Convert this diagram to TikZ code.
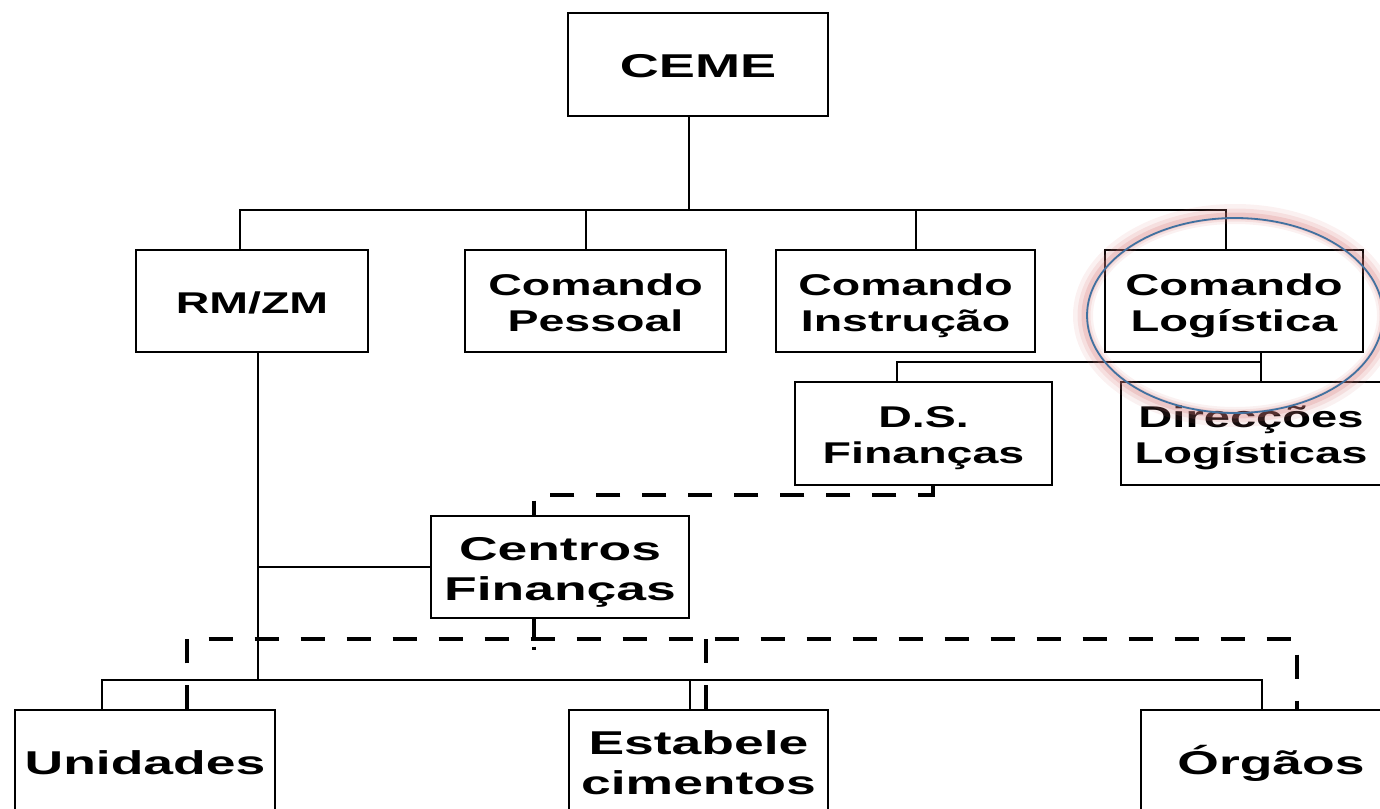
\documentclass[tikz,border=0pt]{standalone}
\usepackage{fontspec}
\setmainfont{Liberation Sans}
\usepackage{graphicx}
\definecolor{ellblue}{RGB}{65,113,160}
\definecolor{glowc}{RGB}{215,120,120}
\newcommand\wtxt[2]{\raisebox{-5pt}[\height][\depth]{\scalebox{#1}[1]{\begin{tabular}{@{}c@{}}#2\end{tabular}}}}
\begin{document}
\begin{tikzpicture}[x=1pt,y=-1pt,
 box/.style={draw, line width=1.4pt, inner sep=0pt, minimum height=102pt, fill=white},
 fa/.style={font=\bfseries\fontsize{30}{36}\selectfont},
 fb/.style={font=\bfseries\fontsize{33}{40}\selectfont},
 conn/.style={line width=1.4pt},
 dconn/.style={line width=3.8pt, dash pattern=on 24pt off 22pt}]
\useasboundingbox (0,0) rectangle (1380,808);
\clip (0,0) rectangle (1380,808);
% boxes
\node[box,fb,minimum width=260pt,minimum height=103pt] (ceme) at (698,64.5) {\wtxt{1.64}{CEME}};
\node[box,fa,minimum width=232pt] (rm)  at (252,301)   {\wtxt{1.55}{RM/ZM}};
\node[box,fa,minimum width=261pt] (pes) at (595.5,301) {\wtxt{1.55}{Comando\\Pessoal}};
\node[box,fa,minimum width=259pt] (ins) at (905.5,301) {\wtxt{1.55}{Comando\\Instrução}};
\node[box,fa,minimum width=258pt] (log) at (1234,301)  {\wtxt{1.57}{Comando\\Logística}};
\node[box,fa,minimum width=257pt,minimum height=103pt] (dsf) at (923.5,433.5) {\wtxt{1.55}{D.S.\\Finanças}};
\node[box,fa,minimum width=260pt,minimum height=103pt] (dir) at (1251,433.5)  {\wtxt{1.57}{Direcções\\Logísticas}};
\node[box,fb,minimum width=258pt] (cen) at (560,567)   {\wtxt{1.62}{Centros\\Finanças}};
\node[box,fb,minimum width=260pt] (uni) at (145,761)   {\wtxt{1.62}{Unidades}};
\node[box,fb,minimum width=259pt] (est) at (698.5,761) {\wtxt{1.62}{Estabele\\cimentos}};
\node[box,fb,minimum width=260pt] (org) at (1271,761)  {\wtxt{1.62}{Órgãos}};
% coordinates
\coordinate (a0) at (689,210);
\coordinate (a1) at (240,210);
\coordinate (a2) at (586,210);
\coordinate (a3) at (916,210);
\coordinate (a4) at (1226,210);
\coordinate (l1) at (1261,362);
\coordinate (l2) at (897,362);
\coordinate (r1) at (258,680);
\coordinate (r2) at (258,567);
\coordinate (u1) at (102,680);
\coordinate (u2) at (690,680);
\coordinate (u3) at (1262,680);
\coordinate (d1) at (933,495);
\coordinate (d2) at (534,495);
\coordinate (e0) at (534,639);
\coordinate (e1) at (187,639);
\coordinate (e2) at (1297,639);
\coordinate (e3) at (706,639);
% solid connectors
\draw[conn] (ceme.south -| a0) -- (a0);
\draw[conn] (rm.north -| a1) -- (a1) -- (a4) -- (log.north -| a4);
\draw[conn] (a2) -- (pes.north -| a2);
\draw[conn] (a3) -- (ins.north -| a3);
\draw[conn] (log.south -| l1) -- (dir.north -| l1);
\draw[conn] (l1) -- (l2) -- (dsf.north -| l2);
\draw[conn] (rm.south -| r1) -- (r1);
\draw[conn] (r2) -- (cen.west);
\draw[conn] (uni.north -| u1) -- (u1) -- (u3) -- (org.north -| u3);
\draw[conn] (u2) -- (est.north -| u2);
% dashed connectors
\draw[dconn] (dsf.south -| d1) -- (d1) -- (d2) -- (cen.north -| d2);
\draw[dconn] (uni.north -| e1) -- (e1) -- (e2) -- (org.north -| e2);
\draw[dconn] (e3) -- (est.north -| e3);
\draw[dconn, dash pattern=on 18pt off 10pt] (cen.south -| e0) -- ++(0,31);
% highlight ellipse with glow
\draw[glowc, opacity=0.10, line width=20pt] (1235,315.5) ellipse [x radius=152pt, y radius=101.5pt];
\draw[glowc, opacity=0.15, line width=13pt] (1235,315.5) ellipse [x radius=151pt, y radius=100.5pt];
\draw[glowc, opacity=0.22, line width=7pt] (1235,315.5) ellipse [x radius=150pt, y radius=99.5pt];
\draw[ellblue, line width=1.8pt] (1235,315.5) ellipse [x radius=148pt, y radius=97.5pt];
\end{tikzpicture}
\end{document}
